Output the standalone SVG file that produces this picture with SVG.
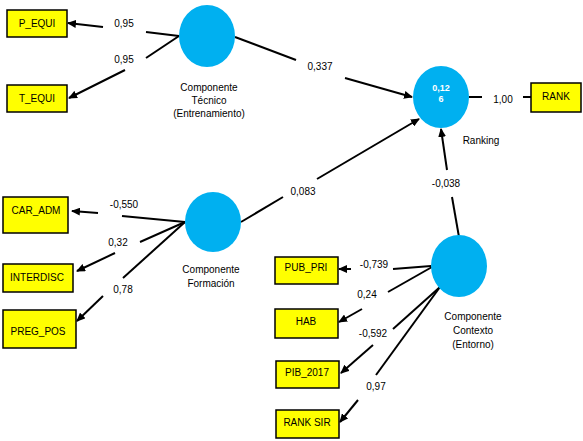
<svg xmlns="http://www.w3.org/2000/svg" width="583" height="441" viewBox="0 0 583 441">
<defs>
<marker id="ah" markerUnits="userSpaceOnUse" markerWidth="9" markerHeight="8" refX="8" refY="4" orient="auto">
<path d="M0,0 L9,4 L0,8 z" fill="#000"/>
</marker>
<style>
.box{fill:#FFFF00;stroke:#000;stroke-width:1.5}
.lv{fill:#00B0F0}
text{font-family:"Liberation Sans",Arial,sans-serif;font-size:10px;fill:#000;text-anchor:middle}
.w{fill:#fff;font-weight:bold}
.ln{stroke:#000;stroke-width:2;fill:none}
.ar{stroke:#000;stroke-width:2;fill:none;marker-end:url(#ah)}
</style>
</defs>
<rect width="583" height="441" fill="#fff"/>
<g id="connectors">
<line class="ln" x1="179" y1="36" x2="146" y2="32"/>
<line class="ar" x1="103" y1="27" x2="68" y2="23"/>
<text x="124" y="27">0,95</text>
<line class="ln" x1="179" y1="36" x2="146" y2="58"/>
<line class="ar" x1="125" y1="70" x2="69" y2="98"/>
<text x="124" y="63">0,95</text>
<line class="ln" x1="235" y1="37" x2="296" y2="60"/>
<line class="ar" x1="345" y1="78" x2="412" y2="97"/>
<text x="320" y="70">0,337</text>
<line class="ln" x1="241" y1="222" x2="283" y2="197"/>
<line class="ar" x1="317" y1="179" x2="419" y2="119"/>
<text x="303" y="195">0,083</text>
<line class="ln" x1="459" y1="237" x2="452" y2="197"/>
<line class="ar" x1="447" y1="170" x2="441" y2="129"/>
<text x="446" y="187">-0,038</text>
<line class="ln" x1="469" y1="97" x2="482" y2="97"/>
<line class="ln" x1="523" y1="97" x2="532" y2="97"/>
<text x="503" y="103">1,00</text>
<line class="ln" x1="185" y1="222" x2="122" y2="216"/>
<line class="ar" x1="98" y1="213" x2="72" y2="211"/>
<text x="124" y="208">-0,550</text>
<line class="ln" x1="185" y1="222" x2="140" y2="242"/>
<line class="ar" x1="115" y1="253" x2="77" y2="271"/>
<text x="118" y="246">0,32</text>
<line class="ln" x1="185" y1="222" x2="123" y2="278"/>
<line class="ar" x1="103" y1="296" x2="77" y2="321"/>
<text x="123" y="293">0,78</text>
<line class="ln" x1="431" y1="266" x2="393" y2="269"/>
<line class="ar" x1="351" y1="269" x2="339" y2="269"/>
<text x="374" y="268">-0,739</text>
<line class="ln" x1="432" y1="267" x2="388" y2="292"/>
<line class="ar" x1="362" y1="309" x2="339" y2="322"/>
<text x="367" y="298">0,24</text>
<line class="ln" x1="440" y1="287" x2="393" y2="329"/>
<line class="ar" x1="373" y1="345" x2="341" y2="373"/>
<text x="373" y="337">-0,592</text>
<line class="ln" x1="440" y1="287" x2="376" y2="375"/>
<line class="ar" x1="358" y1="400" x2="340" y2="422"/>
<text x="376" y="390">0,97</text>
</g>
<g id="P_EQUI"><rect class="box" x="7" y="10" width="60" height="27"/><text x="37" y="27">P_EQUI</text></g>
<g id="T_EQUI"><rect class="box" x="7" y="85" width="60" height="27"/><text x="37" y="102">T_EQUI</text></g>
<g id="CAR_ADM"><rect class="box" x="3" y="197" width="65" height="36"/><text x="36" y="214">CAR_ADM</text></g>
<g id="INTERDISC"><rect class="box" x="3" y="264" width="70" height="28"/><text x="37" y="281">INTERDISC</text></g>
<g id="PREG_POS"><rect class="box" x="3" y="310" width="73" height="38"/><text x="38" y="335">PREG_POS</text></g>
<g id="PUB_PRI"><rect class="box" x="275" y="257" width="63" height="27"/><text x="306" y="271">PUB_PRI</text></g>
<g id="HAB"><rect class="box" x="275" y="309" width="63" height="29"/><text x="306" y="325">HAB</text></g>
<g id="PIB_2017"><rect class="box" x="276" y="361" width="63" height="27"/><text x="307" y="376">PIB_2017</text></g>
<g id="RANK_SIR"><rect class="box" x="276" y="410" width="63" height="28"/><text x="307" y="426">RANK SIR</text></g>
<g id="RANK"><rect class="box" x="531" y="83" width="50" height="29"/><text x="556" y="100">RANK</text></g>
<g id="tecnico"><ellipse class="lv" cx="207" cy="36" rx="28" ry="31"/>
<text x="209" y="91">Componente</text><text x="209" y="104">Técnico</text><text x="209" y="117">(Entrenamiento)</text></g>
<g id="ranking"><ellipse class="lv" cx="441" cy="97" rx="28" ry="31"/>
<text class="w" x="441" y="91" style="font-size:9px">0,12</text><text class="w" x="441" y="102" style="font-size:9px">6</text>
<text x="481" y="144">Ranking</text></g>
<g id="formacion"><ellipse class="lv" cx="213" cy="222" rx="28" ry="30"/>
<text x="211" y="273">Componente</text><text x="211" y="287">Formación</text></g>
<g id="contexto"><ellipse class="lv" cx="459" cy="266" rx="28" ry="31"/>
<text x="473" y="320">Componente</text><text x="473" y="334">Contexto</text><text x="473" y="348">(Entorno)</text></g>
</svg>
